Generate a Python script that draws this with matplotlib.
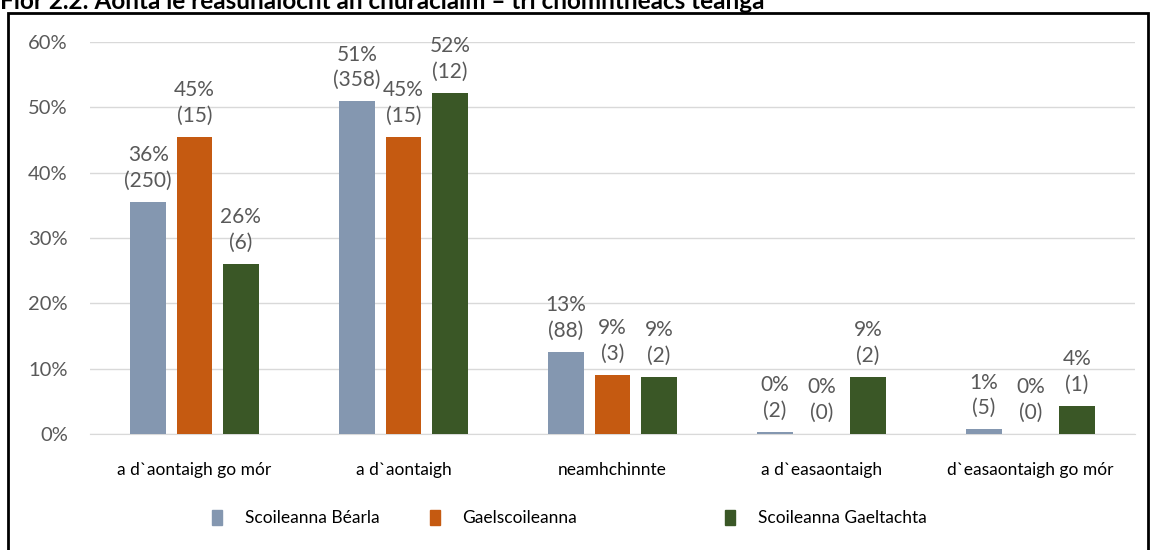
import matplotlib
matplotlib.use("Agg")
import matplotlib.pyplot as plt
from matplotlib.patches import Rectangle, Patch
import numpy as np

categories = ["a d`aontaigh go mór", "a d`aontaigh", "neamhchinnte",
              "a d`easaontaigh", "d`easaontaigh go mór"]
series_names = ["Scoileanna Béarla", "Gaelscoileanna", "Scoileanna Gaeltachta"]
bearla_pct = [35.56, 50.93, 12.52, 0.28, 0.71]
gaelscoil_pct = [45.45, 45.45, 9.09, 0.0, 0.0]
gaeltacht_pct = [26.09, 52.17, 8.70, 8.70, 4.35]
bearla_n = [250, 358, 88, 2, 5]
gaelscoil_n = [15, 15, 3, 0, 0]
gaeltacht_n = [6, 12, 2, 2, 1]
yticks = [0, 10, 20, 30, 40, 50, 60]
title = "Fíor 2.2: Aonta le réasúnaíocht an churaclaim – trí chomhthéacs teanga"

colors = ["#8497B0", "#C55A11", "#3A5726"]
plt.rcParams['font.family'] = ['Lato', 'DejaVu Sans']

fig = plt.figure(figsize=(11.5, 5.5), dpi=100)
ax = fig.add_axes([90/1150, 116/550, 1045/1150, 392/550])

x = np.arange(len(categories))
width = 0.172
offsets = [-0.222, 0.0, 0.222]
all_pct = [bearla_pct, gaelscoil_pct, gaeltacht_pct]
all_n = [bearla_n, gaelscoil_n, gaeltacht_n]
for i in range(3):
    bars = ax.bar(x + offsets[i], all_pct[i], width, color=colors[i],
                  edgecolor="none", zorder=3)
    for b, p, n in zip(bars, all_pct[i], all_n[i]):
        ax.annotate(f"{round(p):d}%\n({n})",
                    (b.get_x() + b.get_width() / 2, b.get_height()),
                    xytext=(0, 8), textcoords="offset points",
                    ha="center", va="bottom", fontsize=15, color="#595959",
                    linespacing=1.35, annotation_clip=False)

ax.set_xlim(-0.5, len(categories) - 0.5)
ax.set_ylim(0, 60)
ax.set_yticks(yticks)
ax.set_yticklabels([f"{t}%" for t in yticks])
ax.set_xticks(x)
ax.set_xticklabels(categories)
ax.tick_params(axis="y", length=0, pad=16, labelsize=14.5, labelcolor="#595959")
ax.tick_params(axis="x", length=0, pad=20, labelsize=12.5, labelcolor="black")
ax.grid(axis="y", color="#D9D9D9", linewidth=1, zorder=0)
for s in ["top", "right", "left"]:
    ax.spines[s].set_visible(False)
ax.spines["bottom"].set_color("#D9D9D9")
ax.set_axisbelow(True)

# legend entries (Excel-like uneven spacing)
leg_x = [196/1150, 414/1150, 709/1150]
for i in range(3):
    fig.legend(handles=[Patch(color=colors[i])], labels=[series_names[i]],
               loc="center left", bbox_to_anchor=(leg_x[i], 32/550),
               frameon=False, fontsize=12.5, handlelength=0.6,
               handleheight=1.0, handletextpad=1.3)

# outer frame
fig.patches.append(Rectangle((8/1150, -0.05), 1140/1150, 1.05 - 13/550,
                             transform=fig.transFigure, fill=False,
                             edgecolor="black", linewidth=2))

# title at top, partially cut as in the source
fig.text(0.0, 1 - 9/550, title, fontsize=17.5, fontweight="bold",
         ha="left", va="baseline", color="black")

fig.savefig("out.png", dpi=100)
